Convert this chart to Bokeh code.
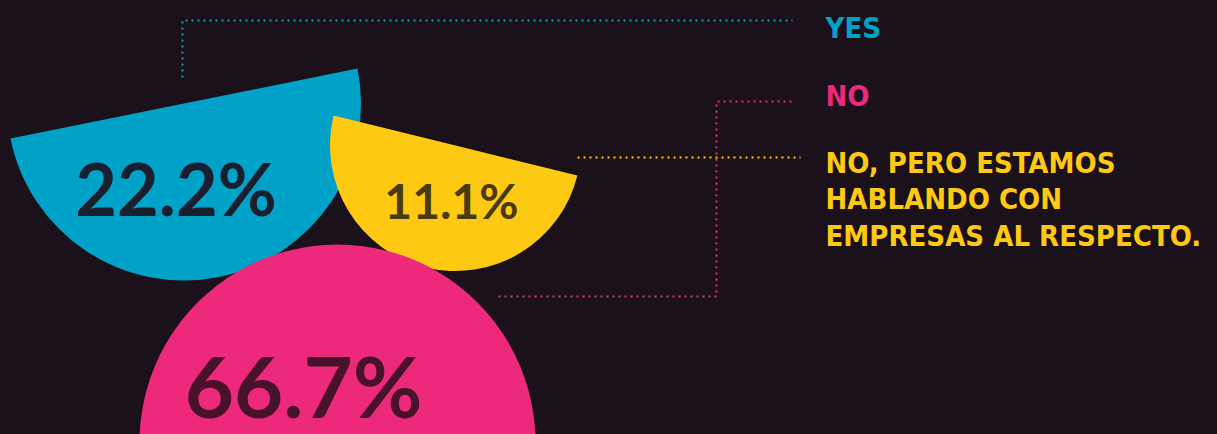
import math
from bokeh.plotting import figure
from bokeh.models import Range1d, ColumnDataSource
from bokeh.core.properties import value
from bokeh.embed import file_html
from bokeh.resources import INLINE

# ---- data ----
categories = ["YES", "NO", "NO, PERO ESTAMOS\nHABLANDO CON\nEMPRESAS AL RESPECTO."]
values = [22.2, 66.7, 11.1]

# ---- styles / layout (reference pixel space, y measured from top) ----
colors = ["#00a2c7", "#ec297b", "#fdc913"]
label_colors = ["#1a1f2f", "#48122a", "#4a3a12"]
BG = "#1b111a"
W, H = 1217, 434

# half-disk layout: centre x, centre y, radius, tilt of flat edge (deg, data space)
disk_cx = [183.5, 337, 455]
disk_cy = [103, 442, 145]
disk_r = [177, 198, 125.5]
disk_tilt = [11.4, 0.0, -13.8]
label_x = [175.5, 303, 451]
label_y = [187, 384, 200]          # vertical centre of the digits
label_size = [72, 85, 48]
draw_order = [0, 2, 1]

legend_x = 825
legend_y = [27, 95, 162]           # vertical centre of first line
legend_line_gap = 36.5
legend_size = 29

connectors = [
    [(182, 77), (182, 20), (792, 20)],
    [(498, 296), (716, 296), (716, 101), (792, 101)],
    [(577, 157), (800, 157)],
]


def sy(y):
    return H - y


p = figure(width=W, height=H, output_backend="svg",
           toolbar_location=None, x_range=Range1d(0, W),
           y_range=Range1d(0, H), min_border=0)
p.axis.visible = False
p.grid.visible = False
p.outline_line_color = None
p.background_fill_color = BG
p.border_fill_color = BG

for i in draw_order:
    t = math.radians(disk_tilt[i])
    if i == 1:
        start, end = 0.0, 2 * math.pi - 1e-6
    else:
        start, end = math.pi + t, 2 * math.pi + t
    p.wedge(x=[disk_cx[i]], y=[sy(disk_cy[i])], radius=disk_r[i],
            start_angle=start, end_angle=end, direction="anticlock",
            fill_color=colors[i], line_color=None)
    p.text(x=[label_x[i]], y=[sy(label_y[i])], text=[f"{values[i]}%"],
           text_font=value("Lato"), text_font_style="bold",
           text_font_size=f"{label_size[i]}px", text_color=label_colors[i],
           text_align="center", text_baseline="middle")

for i, pts in enumerate(connectors):
    p.line(x=[a for a, b in pts], y=[sy(b) for a, b in pts],
           line_color=colors[i], line_width=2, line_dash="2 4")

for i, cat in enumerate(categories):
    lines = cat.split("\n")
    src = ColumnDataSource(dict(
        x=[legend_x] * len(lines),
        y=[sy(legend_y[i] + k * legend_line_gap) for k in range(len(lines))],
        t=lines))
    p.text(x="x", y="y", text="t", source=src,
           text_font=value("DejaVu Sans Condensed"), text_font_style="bold",
           text_font_size=f"{legend_size}px", text_color=colors[i],
           text_align="left", text_baseline="middle")

html = file_html(p, INLINE)
html = html.replace("<head>", "<head><style>html,body{background:%s}</style>" % BG, 1)
open("out.html", "w").write(html)
